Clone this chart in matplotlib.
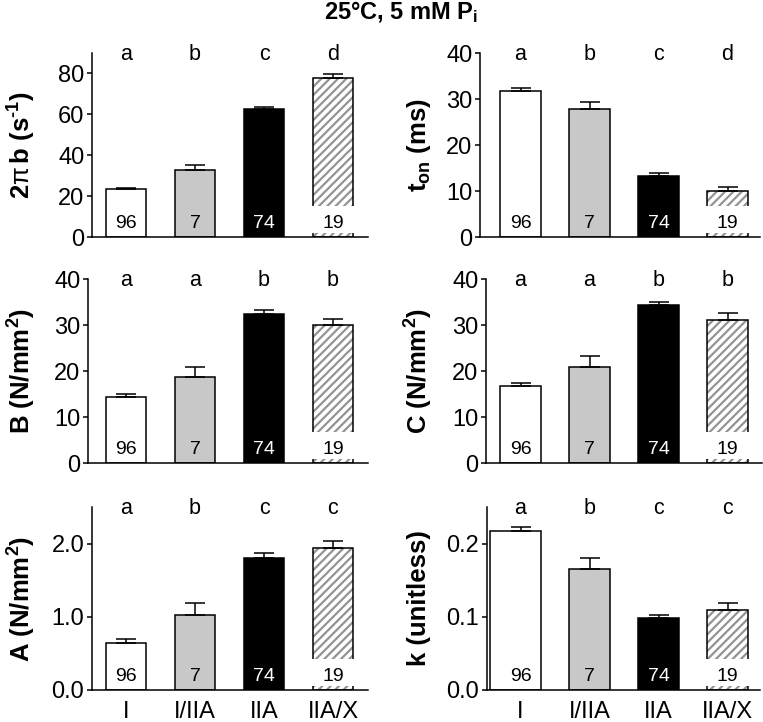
import numpy as np
import matplotlib
matplotlib.use("Agg")
import matplotlib.pyplot as plt
from matplotlib.patches import Rectangle
from matplotlib.transforms import blended_transform_factory

plt.rcParams['font.family'] = ['Liberation Sans', 'DejaVu Sans']
plt.rcParams['mathtext.fontset'] = 'custom'
plt.rcParams['mathtext.rm'] = 'Liberation Sans'
plt.rcParams['mathtext.it'] = 'Liberation Sans'
plt.rcParams['mathtext.bf'] = 'Liberation Sans:bold'
plt.rcParams['hatch.linewidth'] = 1.6

# fiber types and sample sizes
groups = ['I', 'I/IIA', 'IIA', 'IIA/X']
n_fibers = ['96', '7', '74', '19']

# means and SEM for each panel
twopib_mean = [23.4, 32.9, 62.6, 78.0]
twopib_sem = [0.8, 2.4, 0.8, 1.6]
ton_mean = [31.8, 27.8, 13.3, 9.9]
ton_sem = [0.6, 1.6, 0.7, 1.0]
B_mean = [14.3, 18.6, 32.5, 30.0]
B_sem = [0.7, 2.3, 0.7, 1.4]
C_mean = [16.7, 20.9, 34.3, 31.1]
C_sem = [0.6, 2.4, 0.7, 1.5]
A_mean = [0.64, 1.03, 1.81, 1.94]
A_sem = [0.06, 0.16, 0.06, 0.10]
k_mean = [0.217, 0.165, 0.098, 0.109]
k_sem = [0.005, 0.015, 0.005, 0.010]

# significance letters
twopib_sig = ['a', 'b', 'c', 'd']
ton_sig = ['a', 'b', 'c', 'd']
B_sig = ['a', 'a', 'b', 'b']
C_sig = ['a', 'a', 'b', 'b']
A_sig = ['a', 'b', 'c', 'c']
k_sig = ['a', 'b', 'c', 'c']

W, H = 763, 722
fig = plt.figure(figsize=(W / 100, H / 100), dpi=100)

face = ['white', '#c8c8c8', 'black', 'white']
num_col = ['black', 'black', 'white', 'black']
bw = 0.58
step = 69.0  # px between bar centres

# (mean, sem, letters, ylabel, ylim, yticks, fmt, spine px, axis end px, top px, bottom px, first bar centre px)
panels = [
    (twopib_mean, twopib_sem, twopib_sig, '2$\\pi\\,$b (s$^{\\mathbf{\u20101}}$)', 90, [0, 20, 40, 60, 80], '%d',
     92, 368, 53, 237, 126),
    (ton_mean, ton_sem, ton_sig, r't$_{\mathbf{on}}$ (ms)', 40, [0, 10, 20, 30, 40], '%d',
     480, 760, 53, 237, 520.5),
    (B_mean, B_sem, B_sig, r'B (N/mm$^{\mathbf{2}}$)', 40, [0, 10, 20, 30, 40], '%d',
     88, 368, 279, 463, 126),
    (C_mean, C_sem, C_sig, r'C (N/mm$^{\mathbf{2}}$)', 40, [0, 10, 20, 30, 40], '%d',
     486, 762, 279, 463, 520.5),
    (A_mean, A_sem, A_sig, r'A (N/mm$^{\mathbf{2}}$)', 2.5, [0, 1, 2], '%.1f',
     92, 368, 507, 690, 126),
    (k_mean, k_sem, k_sig, 'k (unitless)', 0.25, [0, 0.1, 0.2], '%.1f',
     487, 760, 507, 690, 520.5),
]
label_x = [22, 419, 22, 419, 22, 419]

for i, (mean, sem, sig, ylab, ytop, yt, fmt, sx, ex, ty, by, c0) in enumerate(panels):
    ax = fig.add_axes([sx / W, (H - by) / H, (ex - sx) / W, (by - ty) / H])
    x = np.arange(4)
    widths = [bw] * 4
    lefts = list(x - bw / 2)
    if i == 5:
        # first bar in this panel is drawn a little wider on the left
        lefts[0] -= 10 / step
        widths[0] += 10 / step
    ax.bar(lefts[:3], mean[:3], width=widths[:3], align='edge', color=face[:3],
           edgecolor='black', linewidth=1.1, zorder=2)
    ax.bar(lefts[3], mean[3], width=widths[3], align='edge', color='white',
           edgecolor='#939393', linewidth=0, hatch='////', zorder=2)
    hb = ax.bar(lefts[3], mean[3], width=widths[3], align='edge', color='none',
                edgecolor='black', linewidth=1.1, zorder=3)
    ax.errorbar(x, mean, yerr=[np.zeros(4), sem], fmt='none', ecolor='black',
                elinewidth=1.1, capsize=7, capthick=1.1, zorder=4)

    trans = blended_transform_factory(ax.transData, ax.transAxes)
    ah = by - ty
    p = hb[0]
    ax.add_patch(Rectangle((p.get_x() - 0.015, 4 / ah), p.get_width() + 0.03, 27 / ah,
                           transform=trans, facecolor='white', edgecolor='none', zorder=3.5))
    for j in range(4):
        ax.text(x[j], 9 / ah, n_fibers[j], transform=trans, ha='center', va='baseline',
                fontsize=14, color=num_col[j], zorder=5)
        ax.text(x[j], 1 - 7 / ah, sig[j], transform=trans, ha='center', va='baseline',
                fontsize=15.5, zorder=5)

    ax.set_xlim((sx - c0) / step, (ex - c0) / step)
    ax.set_ylim(0, ytop)
    ax.set_yticks(yt)
    ax.set_yticklabels([fmt % v for v in yt])
    for s in ['top', 'right']:
        ax.spines[s].set_visible(False)
    for s in ['left', 'bottom']:
        ax.spines[s].set_linewidth(1.1)
    ax.tick_params(axis='y', direction='out', length=3.5, width=1.1, labelsize=17, pad=2)
    if i >= 4:
        ax.set_xticks(x)
        ax.set_xticklabels(groups)
        ax.tick_params(axis='x', length=0, labelsize=17, pad=8)
    else:
        ax.set_xticks([])
    ax.set_ylabel(ylab, fontsize=18.5, fontweight='bold', va='center')
    ax.yaxis.set_label_coords((label_x[i] - sx) / (ex - sx), 0.5)

fig.text(401 / W, 1 - 12 / H, r'25°C, 5 mM P$_{\mathbf{i}}$', ha='center', va='center',
         fontsize=17, fontweight='bold')

fig.savefig('out.png', dpi=100)
